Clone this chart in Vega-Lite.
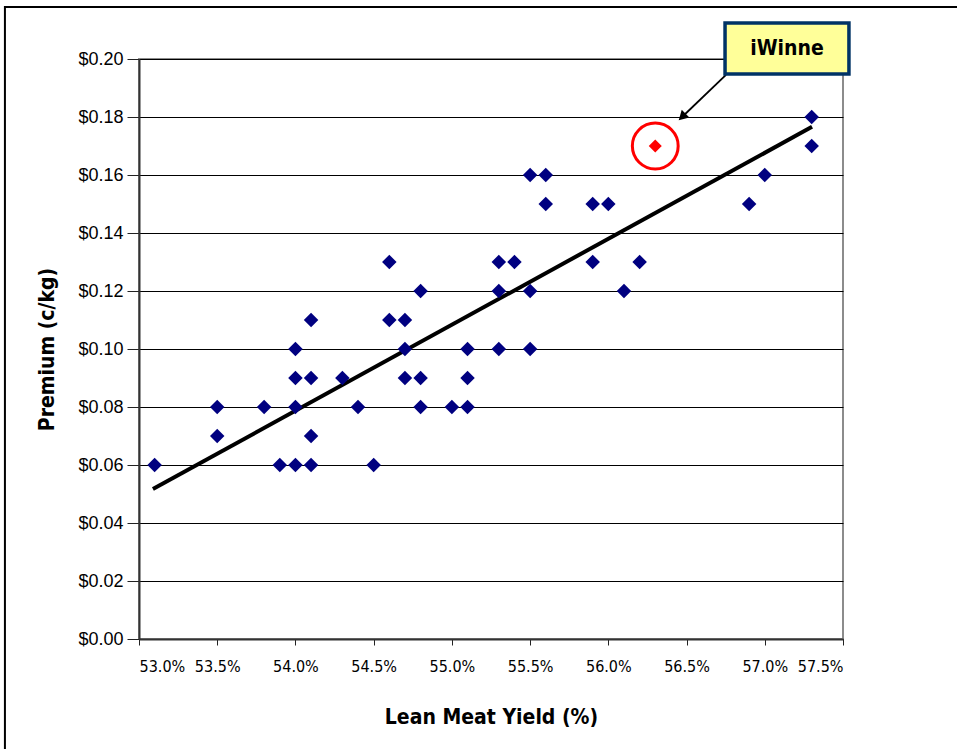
{
  "$schema": "https://vega.github.io/schema/vega-lite/v6.json",
  "autosize": "none",
  "width": 704,
  "height": 580,
  "padding": {"left": 139, "top": 59, "right": 114, "bottom": 110},
  "background": "white",
  "config": {
    "view": {"stroke": "#8c8c8c", "strokeWidth": 2},
    "axis": {
      "domainColor": "#333333",
      "domainWidth": 2,
      "tickColor": "#222222",
      "tickSize": 7,
      "labelColor": "#000000",
      "titleColor": "#000000",
      "titleFont": "DejaVu Sans Condensed, Liberation Sans, sans-serif",
      "titleFontWeight": "bold",
      "titleFontSize": 21
    }
  },
  "datasets": {
    "points": [
      {"yield": 53.1, "premium": 0.06},
      {"yield": 53.5, "premium": 0.08},
      {"yield": 53.5, "premium": 0.07},
      {"yield": 53.8, "premium": 0.08},
      {"yield": 53.9, "premium": 0.06},
      {"yield": 54.0, "premium": 0.10},
      {"yield": 54.0, "premium": 0.09},
      {"yield": 54.0, "premium": 0.08},
      {"yield": 54.0, "premium": 0.06},
      {"yield": 54.1, "premium": 0.11},
      {"yield": 54.1, "premium": 0.09},
      {"yield": 54.1, "premium": 0.07},
      {"yield": 54.1, "premium": 0.06},
      {"yield": 54.3, "premium": 0.09},
      {"yield": 54.4, "premium": 0.08},
      {"yield": 54.5, "premium": 0.06},
      {"yield": 54.6, "premium": 0.13},
      {"yield": 54.6, "premium": 0.11},
      {"yield": 54.7, "premium": 0.11},
      {"yield": 54.7, "premium": 0.10},
      {"yield": 54.7, "premium": 0.09},
      {"yield": 54.8, "premium": 0.12},
      {"yield": 54.8, "premium": 0.09},
      {"yield": 54.8, "premium": 0.08},
      {"yield": 55.0, "premium": 0.08},
      {"yield": 55.1, "premium": 0.10},
      {"yield": 55.1, "premium": 0.09},
      {"yield": 55.1, "premium": 0.08},
      {"yield": 55.3, "premium": 0.13},
      {"yield": 55.3, "premium": 0.12},
      {"yield": 55.3, "premium": 0.10},
      {"yield": 55.4, "premium": 0.13},
      {"yield": 55.5, "premium": 0.16},
      {"yield": 55.5, "premium": 0.12},
      {"yield": 55.5, "premium": 0.10},
      {"yield": 55.6, "premium": 0.16},
      {"yield": 55.6, "premium": 0.15},
      {"yield": 55.9, "premium": 0.15},
      {"yield": 55.9, "premium": 0.13},
      {"yield": 56.0, "premium": 0.15},
      {"yield": 56.1, "premium": 0.12},
      {"yield": 56.2, "premium": 0.13},
      {"yield": 56.9, "premium": 0.15},
      {"yield": 57.0, "premium": 0.16},
      {"yield": 57.3, "premium": 0.18},
      {"yield": 57.3, "premium": 0.17}
    ],
    "highlight": [{"yield": 56.3, "premium": 0.17, "label": "iWinne"}],
    "trend": [
      {"yield": 53.089, "premium": 0.0517},
      {"yield": 57.302, "premium": 0.1766}
    ],
    "frame": [{"yield": 52.143, "yield2": 58.5, "premium": 0.2179, "premium2": -0.06}],
    "callout": [{"yield": 56.746, "yield2": 57.538, "premium": 0.2124, "premium2": 0.1948, "ty": 0.2034, "tx": 57.142, "label": "iWinne"}],
    "arrow": [
      {"yield": 56.752, "premium": 0.1945},
      {"yield": 56.483, "premium": 0.1806}
    ],
    "arrowhead": [{"yield": 56.479, "premium": 0.1804}]
  },
  "layer": [
    {
      "data": {"name": "frame"},
      "mark": {"type": "rect", "fill": null, "stroke": "#000000", "strokeWidth": 2, "clip": false},
      "encoding": {
        "x": {"field": "yield", "type": "quantitative", "title": "Lean Meat Yield (%)"},
        "x2": {"field": "yield2"},
        "y": {"field": "premium", "type": "quantitative", "title": "Premium (c/kg)"},
        "y2": {"field": "premium2"}
      }
    },
    {
      "data": {"name": "trend"},
      "mark": {"type": "line", "color": "#000000", "strokeWidth": 4},
      "encoding": {
        "x": {
          "field": "yield", "type": "quantitative",
          "scale": {"domain": [53, 57.5], "nice": false, "zero": false},
          "title": "Lean Meat Yield (%)",
          "axis": {
            "values": [53, 53.5, 54, 54.5, 55, 55.5, 56, 56.5, 57, 57.5],
            "labelExpr": "format(datum.value, '.1f') + '%'",
            "labelFont": "DejaVu Sans Condensed, Liberation Sans, sans-serif",
            "labelFontSize": 16,
            "labelPadding": 13,
            "tickSize": 6,
            "grid": false,
            "titlePadding": 32
          }
        },
        "y": {
          "field": "premium", "type": "quantitative",
          "scale": {"domain": [0, 0.2], "nice": false},
          "title": "Premium (c/kg)",
          "axis": {
            "values": [0, 0.02, 0.04, 0.06, 0.08, 0.1, 0.12, 0.14, 0.16, 0.18, 0.2],
            "format": "$.2f",
            "labelFont": "Liberation Sans",
            "labelFontSize": 18,
            "labelPadding": 4,
            "tickSize": 12,
            "grid": true,
            "gridColor": "#000000",
            "gridWidth": 1,
            "titlePadding": 20
          }
        }
      }
    },
    {
      "data": {"name": "points"},
      "mark": {"type": "point", "shape": "diamond", "filled": true, "color": "#000080", "opacity": 1, "size": 210},
      "encoding": {
        "x": {"field": "yield", "type": "quantitative", "title": "Lean Meat Yield (%)"},
        "y": {"field": "premium", "type": "quantitative", "title": "Premium (c/kg)"}
      }
    },
    {
      "data": {"name": "highlight"},
      "mark": {"type": "point", "shape": "diamond", "filled": true, "color": "#ff0000", "opacity": 1, "size": 170},
      "encoding": {
        "x": {"field": "yield", "type": "quantitative", "title": "Lean Meat Yield (%)"},
        "y": {"field": "premium", "type": "quantitative", "title": "Premium (c/kg)"}
      }
    },
    {
      "data": {"name": "highlight"},
      "mark": {"type": "point", "shape": "circle", "filled": false, "stroke": "#ff0000", "strokeWidth": 3, "opacity": 1, "size": 2100},
      "encoding": {
        "x": {"field": "yield", "type": "quantitative", "title": "Lean Meat Yield (%)"},
        "y": {"field": "premium", "type": "quantitative", "title": "Premium (c/kg)"}
      }
    },
    {
      "data": {"name": "arrow"},
      "mark": {"type": "line", "color": "#000000", "strokeWidth": 1.8, "clip": false},
      "encoding": {
        "x": {"field": "yield", "type": "quantitative", "title": "Lean Meat Yield (%)"},
        "y": {"field": "premium", "type": "quantitative", "title": "Premium (c/kg)"}
      }
    },
    {
      "data": {"name": "arrowhead"},
      "mark": {"type": "point", "shape": "triangle", "filled": true, "color": "#000000", "opacity": 1, "size": 120, "angle": 226},
      "encoding": {
        "x": {"field": "yield", "type": "quantitative", "title": "Lean Meat Yield (%)"},
        "y": {"field": "premium", "type": "quantitative", "title": "Premium (c/kg)"}
      }
    },
    {
      "data": {"name": "callout"},
      "mark": {"type": "rect", "fill": "#ffff99", "stroke": "#003366", "strokeWidth": 3.5, "clip": false},
      "encoding": {
        "x": {"field": "yield", "type": "quantitative", "title": "Lean Meat Yield (%)"},
        "x2": {"field": "yield2"},
        "y": {"field": "premium", "type": "quantitative", "title": "Premium (c/kg)"},
        "y2": {"field": "premium2"}
      }
    },
    {
      "data": {"name": "callout"},
      "mark": {"type": "text", "font": "DejaVu Sans Condensed, Liberation Sans, sans-serif", "fontWeight": "bold", "fontSize": 21, "color": "#000000", "align": "center", "baseline": "middle", "clip": false},
      "encoding": {
        "x": {"field": "tx", "type": "quantitative", "title": "Lean Meat Yield (%)"},
        "y": {"field": "ty", "type": "quantitative", "title": "Premium (c/kg)"},
        "text": {"field": "label"}
      }
    }
  ]
}
